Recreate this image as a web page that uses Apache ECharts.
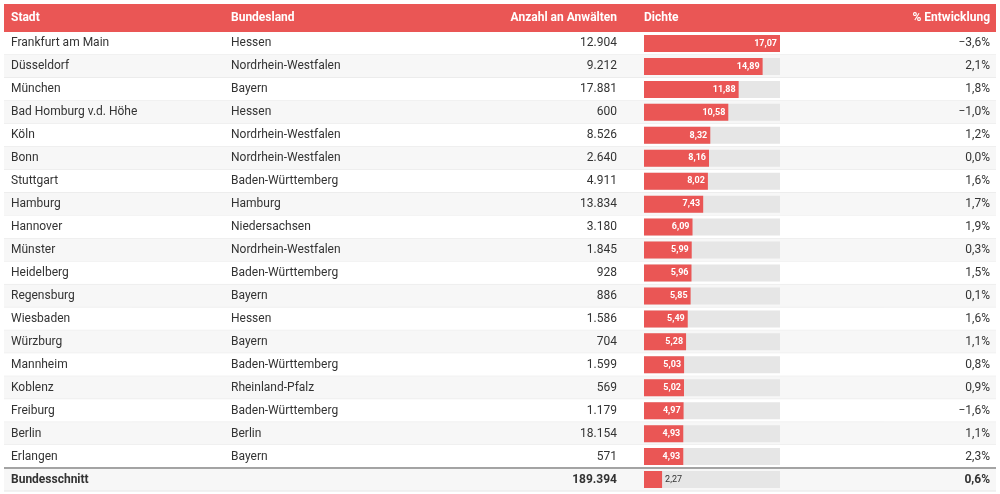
<!DOCTYPE html>
<html lang="de" style="height: 100%">
<head>
  <meta charset="utf-8">
</head>
<body style="height: 100%; margin: 0; background: #fff">
  <div id="container" style="width: 1000px; height: 494px"></div>
  <script src="https://cdn.jsdelivr.net/npm/echarts@6/dist/echarts.min.js"></script>
  <script>
    var headers = ['Stadt', 'Bundesland', 'Anzahl an Anwälten', 'Dichte', '% Entwicklung'];
    var cities = ['Frankfurt am Main', 'Düsseldorf', 'München', 'Bad Homburg v.d. Höhe', 'Köln', 'Bonn',
      'Stuttgart', 'Hamburg', 'Hannover', 'Münster', 'Heidelberg', 'Regensburg', 'Wiesbaden', 'Würzburg',
      'Mannheim', 'Koblenz', 'Freiburg', 'Berlin', 'Erlangen', 'Bundesschnitt'];
    var states = ['Hessen', 'Nordrhein-Westfalen', 'Bayern', 'Hessen', 'Nordrhein-Westfalen', 'Nordrhein-Westfalen',
      'Baden-Württemberg', 'Hamburg', 'Niedersachsen', 'Nordrhein-Westfalen', 'Baden-Württemberg', 'Bayern',
      'Hessen', 'Bayern', 'Baden-Württemberg', 'Rheinland-Pfalz', 'Baden-Württemberg', 'Berlin', 'Bayern', ''];
    var lawyers = ['12.904', '9.212', '17.881', '600', '8.526', '2.640', '4.911', '13.834', '3.180', '1.845',
      '928', '886', '1.586', '704', '1.599', '569', '1.179', '18.154', '571', '189.394'];
    var density = [17.07, 14.89, 11.88, 10.58, 8.32, 8.16, 8.02, 7.43, 6.09, 5.99, 5.96, 5.85, 5.49, 5.28,
      5.03, 5.02, 4.97, 4.93, 4.93, 2.27];
    var change = ['−3,6%', '2,1%', '1,8%', '−1,0%', '1,2%', '0,0%', '1,6%', '1,7%', '1,9%', '0,3%', '1,5%',
      '0,1%', '1,6%', '1,1%', '0,8%', '0,9%', '−1,6%', '1,1%', '2,3%', '0,6%'];

    var RED = '#ea5655';
    var FONT = 'Roboto';
    var last = cities.length - 1;
    var chart = echarts.init(document.getElementById('container'), null, { renderer: 'canvas' });

    var rows = cities.map(function (c, i) { return [0, i]; });

    function renderRow(params, api) {
      var i = api.value(1);
      var p0 = api.coord([0, i]);
      var size = api.size([1, 1]);
      var h = size[1];
      var top = p0[1] - h / 2;
      var bold = i === last ? 'bold' : 'normal';
      var txt = function (x, s, align) {
        return {
          type: 'text', x: x, y: p0[1],
          style: { text: s, fill: '#333', font: bold + ' 12px ' + FONT, align: align, verticalAlign: 'middle' }
        };
      };
      var kids = [{
        type: 'rect',
        shape: { x: 4, y: top, width: 992, height: h },
        style: { fill: i % 2 === 1 || i === last ? '#f7f7f7' : '#fff' }
      }, {
        type: 'line',
        shape: { x1: 4, y1: top + h, x2: 996, y2: top + h },
        style: { stroke: '#e6e6e6', lineWidth: 1 }
      }];
      if (i === last) {
        kids.push({
          type: 'line',
          shape: { x1: 4, y1: top, x2: 996, y2: top },
          style: { stroke: '#888', lineWidth: 1.5 }
        });
      }
      kids.push(txt(11, cities[i], 'left'), txt(231, states[i], 'left'),
        txt(617, lawyers[i], 'right'), txt(990, change[i], 'right'));
      return { type: 'group', children: kids };
    }

    var headerGraphic = [{
      type: 'rect', left: 4, top: 4, shape: { width: 992, height: 28 }, style: { fill: RED }
    }];
    var hx = [11, 231, 617, 644, 990];
    headers.forEach(function (h, k) {
      var right = k === 2 || k === 4;
      headerGraphic.push({
        type: 'text', x: hx[k], y: 18,
        style: { text: h, fill: '#fff', font: 'bold 12px ' + FONT, align: right ? 'right' : 'left', verticalAlign: 'middle' }
      });
    });

    var option = {
      animation: false,
      grid: [
        { left: 4, right: 4, top: 32, bottom: 3 },
        { left: 644, width: 136, top: 32, bottom: 3 }
      ],
      xAxis: [
        { gridIndex: 0, type: 'value', min: 0, max: 1, show: false },
        { gridIndex: 1, type: 'value', min: 0, max: 17.07, show: false }
      ],
      yAxis: [
        { gridIndex: 0, type: 'category', data: cities, inverse: true, show: false },
        { gridIndex: 1, type: 'category', data: cities, inverse: true, show: false }
      ],
      graphic: headerGraphic,
      series: [{
        type: 'custom', xAxisIndex: 0, yAxisIndex: 0, data: rows, renderItem: renderRow, z: 1
      }, {
        type: 'bar', xAxisIndex: 1, yAxisIndex: 1, z: 5, barWidth: 17,
        showBackground: true,
        backgroundStyle: { color: '#e6e6e6' },
        itemStyle: { color: RED },
        label: {
          show: true, position: 'insideRight', color: '#fff', fontSize: 9, fontWeight: 'bold', fontFamily: FONT,
          distance: 3,
          formatter: function (p) { return p.value.toFixed(2).replace('.', ','); }
        },
        data: density.map(function (d, i) {
          if (i !== last) return d;
          return { value: d, label: { position: 'right', color: '#333', fontWeight: 'normal', distance: 3 } };
        })
      }]
    };
    chart.setOption(option);
    window.addEventListener('resize', chart.resize);
  </script>
</body>
</html>
